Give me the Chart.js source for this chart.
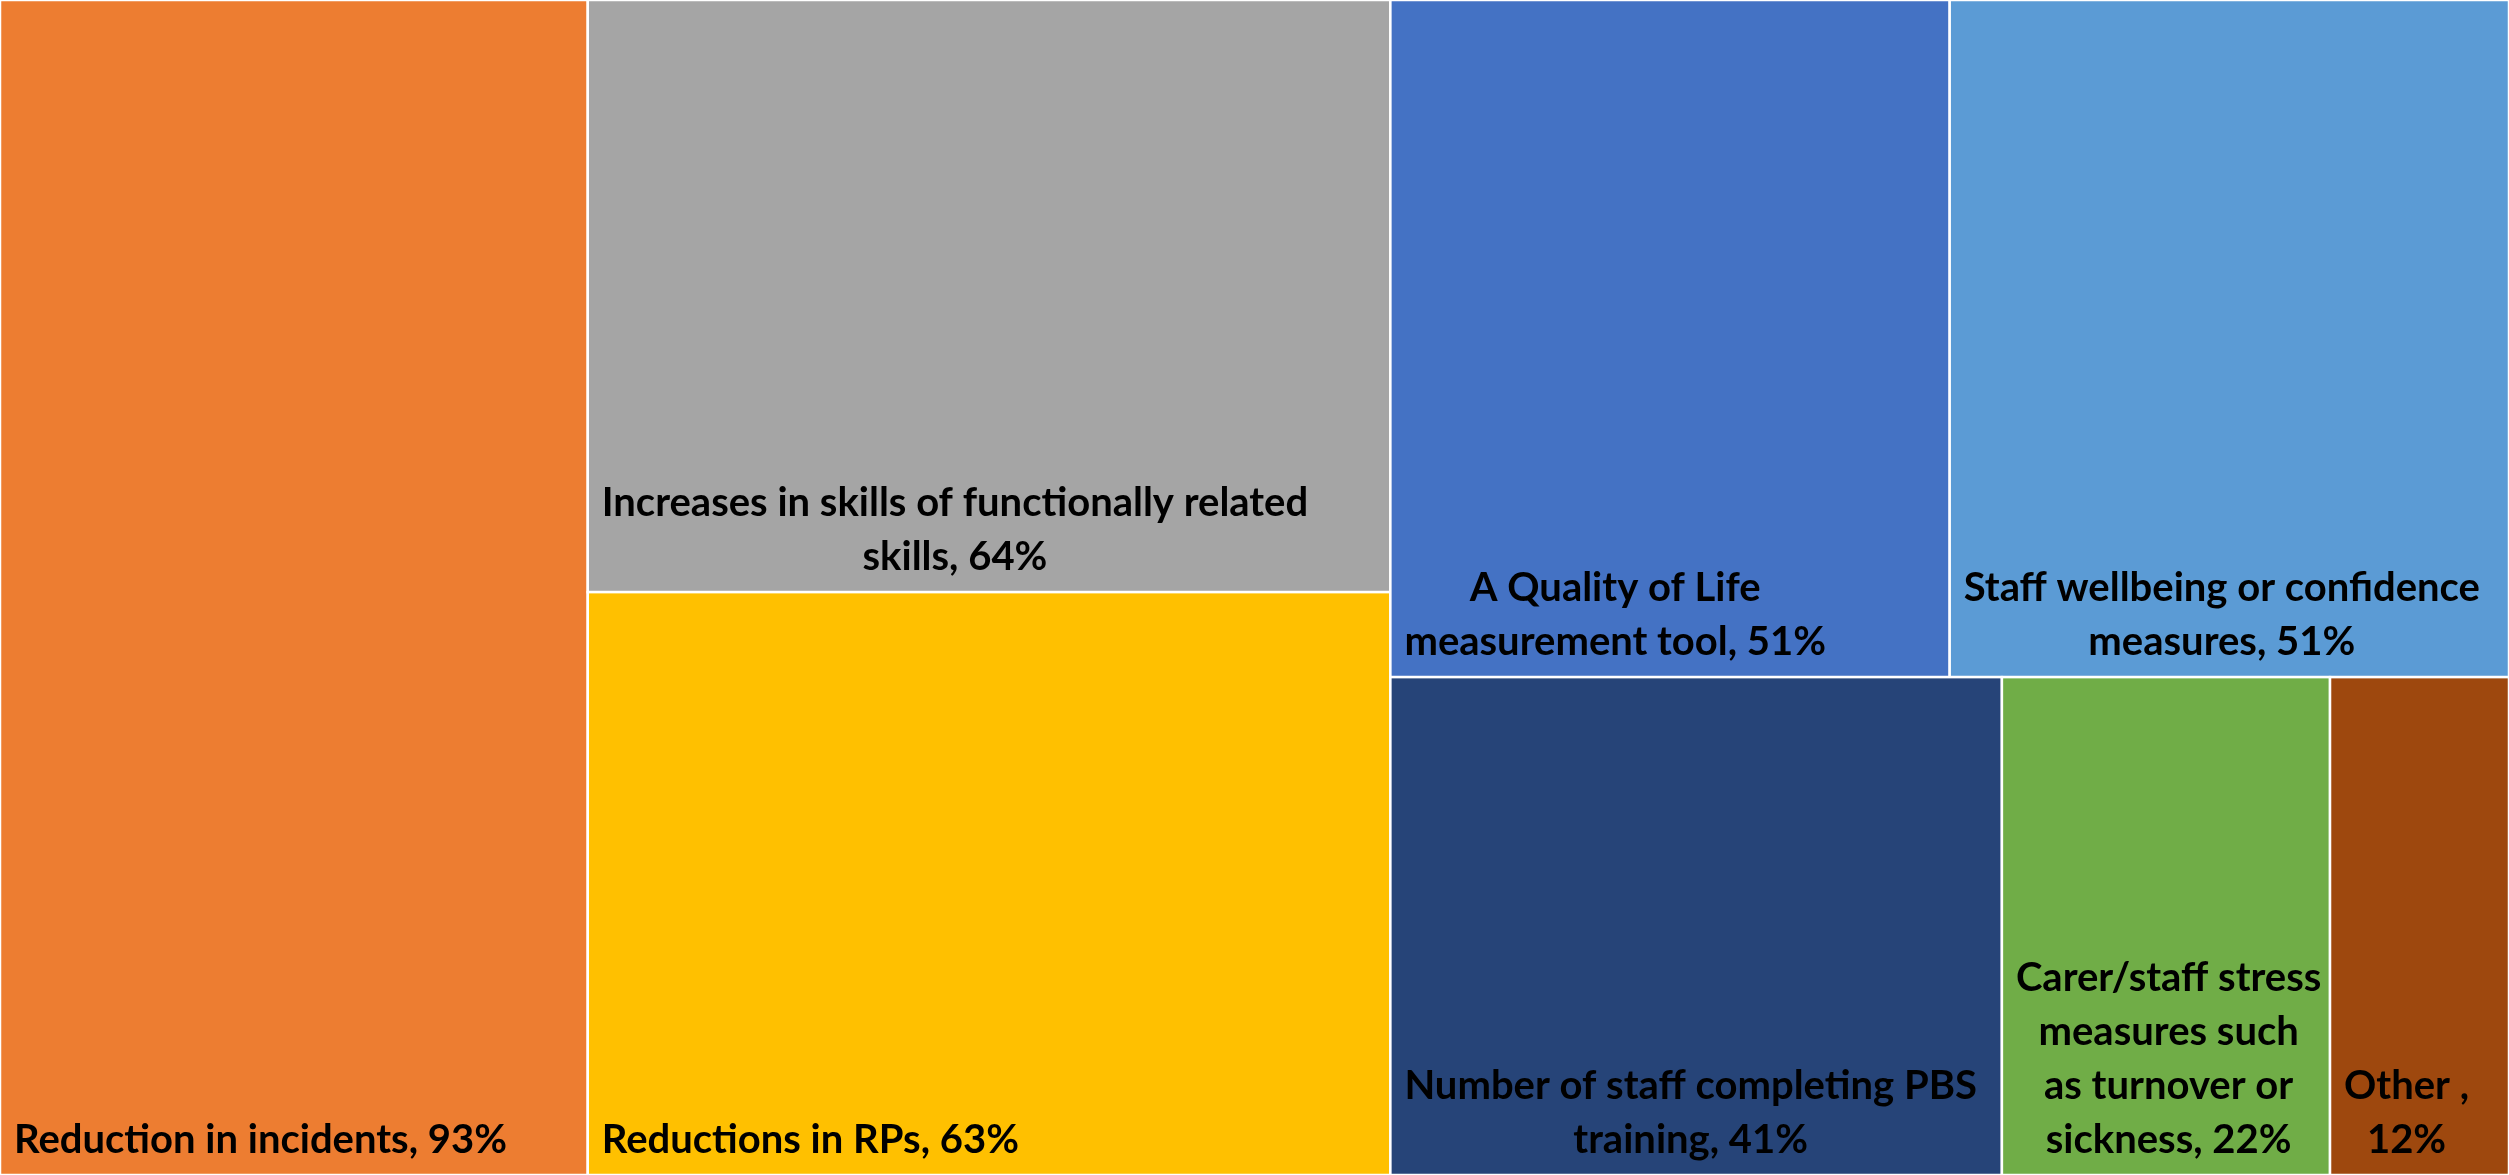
<!DOCTYPE html>
<html lang="en">
<head>
  <meta charset="UTF-8">
  <title>Outcome measures treemap</title>
  <script src="https://cdn.jsdelivr.net/npm/chart.js"></script>
  <style>
    html, body { margin: 0; padding: 0; background: #fff; }
    canvas { display: block; }
  </style>
</head>
<body>
  <canvas id="treeChart" width="2509" height="1175"></canvas>

  <script>
    // Categories and their percentages (largest first, as drawn)
    // \u00A0 keeps "as turnover" together when wrapping
    const categories = [
      'Reduction in incidents',
      'Increases in skills of functionally related skills',
      'Reductions in RPs',
      'A Quality of Life measurement tool',
      'Staff wellbeing or confidence measures',
      'Number of staff completing PBS training',
      'Carer/staff stress measures such as\u00A0turnover or sickness',
      'Other '
    ];
    const percentages = [93, 64, 63, 51, 51, 41, 22, 12];

    // Office theme colours, one per box
    const boxColors = ['#ED7D31', '#A5A5A5', '#FFC000', '#4472C4', '#5B9BD5', '#264478', '#70AD47', '#9E480E'];

    const FONT = 'bold 40px Lato';
    const LINE_HEIGHT = 54;
    const PAD = 14;      // left inset of the label block
    const WRAP_PAD = 10; // inset used when wrapping

    // worst aspect ratio of a row laid along a side of given length
    function worst(row, side, scale) {
      const areas = row.map(v => v * scale);
      const s = areas.reduce((a, b) => a + b, 0);
      const max = Math.max(...areas), min = Math.min(...areas);
      return Math.max(side * side * max / (s * s), (s * s) / (side * side * min));
    }

    // squarified treemap layout, returns rects in the same order as values
    function squarify(values, x, y, w, h) {
      const rects = [];
      let i = 0;
      while (i < values.length) {
        const rest = values.slice(i).reduce((a, b) => a + b, 0);
        const scale = (w * h) / rest;
        const side = Math.min(w, h);
        let row = [values[i]];
        let j = i + 1;
        while (j < values.length && worst(row.concat(values[j]), side, scale) <= worst(row, side, scale)) {
          row.push(values[j]);
          j++;
        }
        const rowSum = row.reduce((a, b) => a + b, 0);
        if (w >= h) {
          // column on the left
          const colW = rowSum / rest * w;
          let yy = y;
          row.forEach(v => {
            const hh = v / rowSum * h;
            rects.push({ x: x, y: yy, w: colW, h: hh });
            yy += hh;
          });
          x += colW; w -= colW;
        } else {
          // strip along the top
          const rowH = rowSum / rest * h;
          let xx = x;
          row.forEach(v => {
            const ww = v / rowSum * w;
            rects.push({ x: xx, y: y, w: ww, h: rowH });
            xx += ww;
          });
          y += rowH; h -= rowH;
        }
        i = j;
      }
      return rects;
    }

    // greedy wrap on single spaces (keeps doubled spaces like "Other  ,")
    function wrapText(ctx, text, maxWidth) {
      const words = text.split(' ');
      const lines = [];
      let line = null;
      words.forEach(word => {
        if (line === null) { line = word; return; }
        const test = line + ' ' + word;
        if (word.length && line.trim().length && ctx.measureText(test).width > maxWidth) {
          lines.push(line.trimEnd());
          line = word;
        } else {
          line = test;
        }
      });
      if (line !== null) lines.push(line.trimEnd());
      return lines;
    }

    const treemapPlugin = {
      id: 'treemap',
      beforeDatasetsDraw(chart) {
        const { ctx, chartArea: area, scales: { x, y } } = chart;
        const aspect = area.width / area.height;
        const rects = squarify(percentages, 0, 0, aspect, 1);

        ctx.save();
        rects.forEach((r, i) => {
          const left = x.getPixelForValue(r.x / aspect);
          const right = x.getPixelForValue((r.x + r.w) / aspect);
          const top = y.getPixelForValue(r.y);
          const bottom = y.getPixelForValue(r.y + r.h);

          ctx.fillStyle = boxColors[i];
          ctx.fillRect(left, top, right - left, bottom - top);
          ctx.strokeStyle = '#ffffff';
          ctx.lineWidth = 2.5;
          ctx.strokeRect(left, top, right - left, bottom - top);

          // label block anchored bottom-left, lines centred within it
          ctx.font = FONT;
          ctx.fillStyle = '#000000';
          ctx.textBaseline = 'alphabetic';
          ctx.textAlign = 'left';
          const text = categories[i] + ', ' + percentages[i] + '%';
          const lines = wrapText(ctx, text, right - left - 2 * WRAP_PAD);
          const widths = lines.map(l => ctx.measureText(l).width);
          const blockW = Math.max(...widths);
          lines.forEach((l, k) => {
            const baseY = bottom - 22 - (lines.length - 1 - k) * LINE_HEIGHT;
            ctx.fillText(l, left + PAD + (blockW - widths[k]) / 2, baseY);
          });
        });
        ctx.restore();
      }
    };

    const ctx = document.getElementById('treeChart').getContext('2d');
    const chart = new Chart(ctx, {
      type: 'scatter',
      data: {
        labels: categories,
        datasets: [{ data: [] }]
      },
      options: {
        responsive: false,
        animation: false,
        devicePixelRatio: 1,
        layout: { padding: 0 },
        plugins: { legend: { display: false }, tooltip: { enabled: false } },
        scales: {
          x: { type: 'linear', min: 0, max: 1, display: false },
          y: { type: 'linear', min: 0, max: 1, reverse: true, display: false }
        }
      },
      plugins: [treemapPlugin]
    });
  </script>
</body>
</html>
